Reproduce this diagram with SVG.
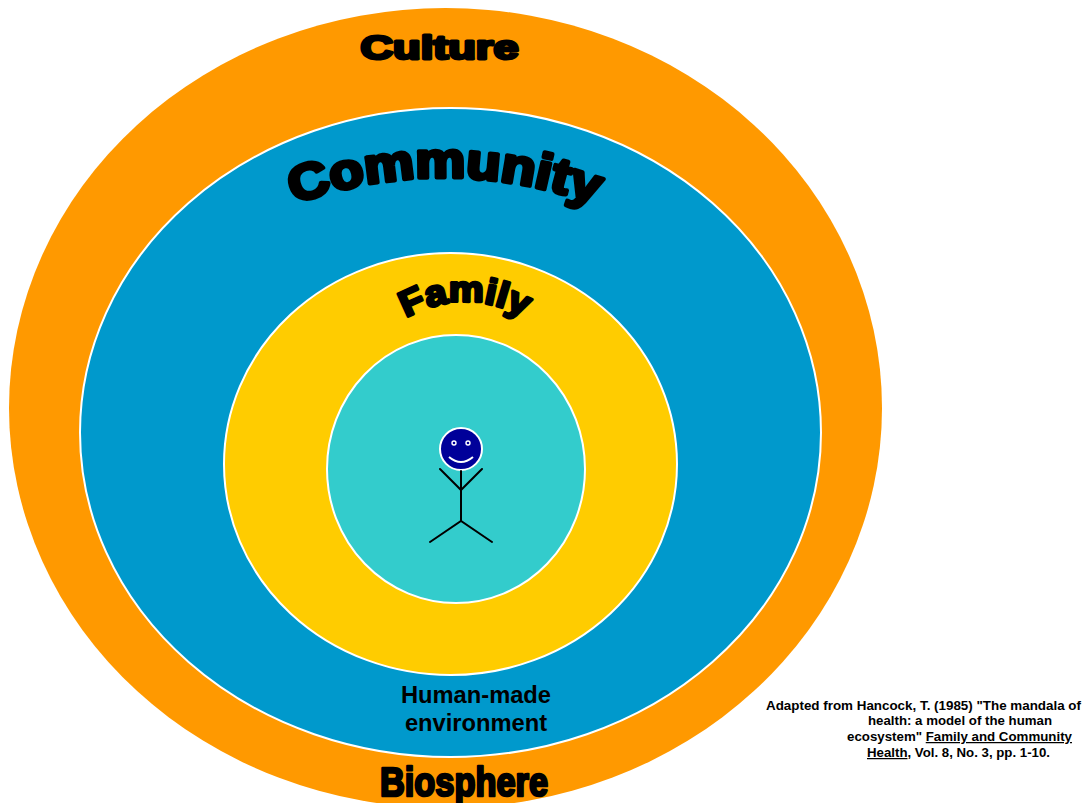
<svg xmlns="http://www.w3.org/2000/svg" width="1085" height="803" viewBox="0 0 1085 803">
<style>
.ring{stroke:#fff;stroke-width:2}
.fat{font-family:"Liberation Sans",Arial,sans-serif;font-weight:700;fill:#000;stroke:#000;stroke-linejoin:round}
.lab{font-family:"Liberation Sans",Arial,sans-serif;font-weight:700;fill:#000}
.cite{font-size:12.4px}
.fig{fill:none;stroke:#000;stroke-width:2;stroke-linecap:round}
</style>
<defs>
<path id="arcCommunity" d="M294 204Q446 150 600 206"/>
<path id="arcFamily" d="M406 318Q464 286 524 317"/>
</defs>
<rect width="1085" height="803" fill="#fff"/>
<g id="culture"><ellipse cx="445.5" cy="408" rx="436.5" ry="400" fill="#f90"/>
<text class="fat" x="439.5" y="59" font-size="33" stroke-width="3" text-anchor="middle" textLength="158" lengthAdjust="spacingAndGlyphs">Culture</text></g>
<g id="community"><ellipse class="ring" cx="450.5" cy="432.5" rx="370.5" ry="324.5" fill="#09c"/>
<text class="fat" font-size="50" stroke-width="4"><textPath href="#arcCommunity" textLength="308" lengthAdjust="spacingAndGlyphs">Community</textPath></text></g>
<g id="family"><ellipse class="ring" cx="450.5" cy="464" rx="226.5" ry="211" fill="#fc0"/>
<text class="fat" font-size="36" stroke-width="3"><textPath href="#arcFamily" textLength="124" lengthAdjust="spacingAndGlyphs">Family</textPath></text></g>
<g id="individual"><ellipse class="ring" cx="456" cy="469" rx="129" ry="134" fill="#3cc"/>
<circle cx="461" cy="449" r="21" fill="#009" stroke="#fff" stroke-width="2"/>
<circle cx="454" cy="443" r="2" fill="#009" stroke="#fff" stroke-width="1.4"/>
<circle cx="468" cy="443" r="2" fill="#009" stroke="#fff" stroke-width="1.4"/>
<path d="M449 457Q461 467 473 457" fill="none" stroke="#fff" stroke-width="2"/>
<path class="fig" d="M461 471V521M440 469L461 490L482 469M430 542L461 521L492 542"/></g>
<g id="human-made">
<text class="lab" x="476" y="703" font-size="23.7" text-anchor="middle">Human-made</text>
<text class="lab" x="476" y="731" font-size="23.7" text-anchor="middle">environment</text></g>
<g id="biosphere"><text class="fat" x="464" y="796" font-size="40" stroke-width="2.6" text-anchor="middle" textLength="168" lengthAdjust="spacingAndGlyphs">Biosphere</text></g>
<g id="citation">
<text class="lab cite" x="766" y="710" textLength="315" lengthAdjust="spacingAndGlyphs">Adapted from Hancock, T. (1985) "The mandala of</text>
<text class="lab cite" x="868" y="725" textLength="184" lengthAdjust="spacingAndGlyphs">health: a model of the human</text>
<text class="lab cite" x="847" y="741" textLength="225" lengthAdjust="spacingAndGlyphs">ecosystem" <tspan text-decoration="underline">Family and Community</tspan></text>
<text class="lab cite" x="867" y="757" textLength="183" lengthAdjust="spacingAndGlyphs"><tspan text-decoration="underline">Health</tspan>, Vol. 8, No. 3, pp. 1-10.</text></g>
<g id="connectors"/>
</svg>
